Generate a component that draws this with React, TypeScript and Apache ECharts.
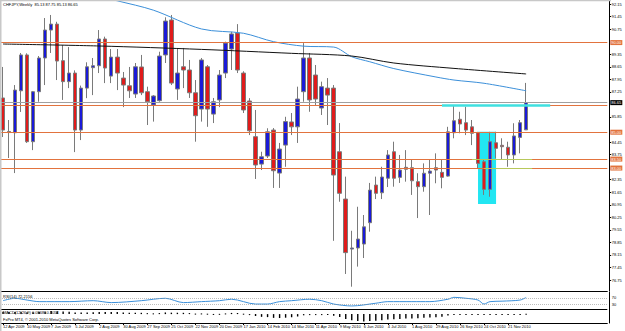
import { useEffect, useRef } from "react";
import * as echarts from "echarts";

const chartTitle = "CHFJPY,Weekly  85.13 87.75 85.13 86.65";
const rsiTitle = "RSI(14) 72.2156";
const macdTitle = "MACD(12,26,9) 0.0868 -0.3054";
const copyright = "FxPro MT4, © 2001-2010 MetaQuotes Software Corp.";

const totalSlots = 101;
const monthNames = ["Jan", "Feb", "Mar", "Apr", "May", "Jun", "Jul", "Aug", "Sep", "Oct", "Nov", "Dec"];

const opens = [86.91, 85.04, 84.97, 87.31, 89.31, 84.47, 87.26, 89.14, 90.70, 91.03,
  88.99, 87.82, 88.30, 85.12, 87.46, 88.60, 88.71, 90.20, 88.13, 89.19,
  88.02, 87.59, 87.13, 88.64, 87.26, 86.52, 86.76, 89.31, 91.26, 87.41,
  88.65, 88.47, 87.20, 86.29, 88.65, 86.01, 86.80, 88.30, 89.64, 90.53,
  88.30, 86.74, 84.75, 83.22, 83.67, 85.12, 82.72, 84.28, 85.57, 85.30,
  87.26, 89.14, 88.19, 86.35, 87.46, 87.46, 83.91, 81.27, 78.48, 78.54,
  78.76, 79.95, 82.05, 81.62, 82.43, 83.91, 82.48, 83.04, 83.02, 82.24,
  81.96, 82.71, 83.02, 82.76, 82.55, 84.97, 85.72, 85.53, 85.30, 84.97,
  83.35, 81.81, 84.41, 84.27, 84.16, 83.73, 84.71, 85.13];
const highs = [88.64, 85.68, 87.63, 89.42, 89.40, 87.30, 89.25, 91.37, 91.54, 91.16,
  89.86, 89.75, 88.45, 87.60, 88.90, 89.14, 90.70, 90.33, 89.64, 89.64,
  88.36, 88.64, 88.86, 89.31, 87.54, 87.07, 89.49, 91.41, 91.54, 89.70,
  89.70, 89.03, 87.91, 89.14, 88.75, 86.91, 88.47, 90.05, 90.60, 91.03,
  88.40, 86.90, 86.24, 83.91, 85.22, 85.23, 84.40, 85.86, 86.07, 87.54,
  89.97, 89.42, 88.75, 87.82, 88.02, 87.63, 85.51, 82.52, 79.50, 80.84,
  80.38, 82.17, 82.52, 83.07, 84.00, 84.47, 83.73, 84.00, 83.45, 82.71,
  83.26, 83.45, 83.82, 83.45, 85.30, 86.52, 86.14, 86.42, 85.68, 85.02,
  83.45, 85.02, 85.02, 84.66, 84.47, 85.50, 85.68, 87.75];
const lows = [84.73, 83.56, 82.72, 86.13, 84.40, 84.00, 86.70, 87.63, 89.42, 87.91,
  86.80, 87.46, 83.89, 84.56, 86.90, 87.07, 88.30, 87.74, 87.74, 87.35,
  86.40, 86.91, 86.91, 87.07, 85.40, 85.59, 86.70, 88.86, 87.63, 86.80,
  87.46, 86.91, 84.47, 85.59, 85.30, 85.51, 86.40, 88.02, 88.47, 88.30,
  86.07, 84.84, 82.39, 82.89, 83.56, 81.89, 81.89, 83.07, 84.84, 84.40,
  86.70, 86.14, 86.52, 85.96, 85.40, 78.94, 81.12, 77.09, 76.38, 77.50,
  77.98, 79.45, 81.27, 81.27, 81.94, 81.96, 82.17, 82.24, 81.50, 80.21,
  81.68, 80.38, 82.15, 81.87, 82.52, 84.66, 84.94, 84.84, 84.28, 82.99,
  81.50, 81.40, 83.54, 83.45, 83.07, 83.26, 83.82, 85.13];
const closes = [85.12, 84.98, 87.35, 89.31, 84.47, 87.26, 89.14, 90.70, 91.03, 88.97,
  87.82, 88.30, 85.12, 87.46, 88.65, 88.71, 90.20, 88.58, 89.19, 88.30,
  87.63, 87.31, 88.65, 87.20, 86.70, 87.02, 89.25, 91.20, 87.74, 88.30,
  88.47, 87.20, 85.92, 89.03, 86.29, 86.70, 88.19, 89.97, 90.48, 88.47,
  86.24, 85.08, 83.17, 83.63, 85.02, 82.85, 84.06, 85.59, 85.30, 86.85,
  89.14, 86.80, 86.85, 87.54, 87.07, 82.61, 81.59, 78.28, 78.54, 79.04,
  79.72, 81.77, 81.59, 82.50, 83.73, 82.43, 82.89, 82.93, 82.29, 81.96,
  82.71, 82.83, 82.89, 82.48, 85.02, 85.64, 85.46, 85.12, 84.94, 83.26,
  81.81, 84.47, 84.10, 84.19, 83.73, 84.79, 85.53, 86.65];

const blueMaIdx = [0, 10, 19, 25, 33, 40, 45, 50, 55, 58, 61, 65, 72, 75, 80, 87];
const blueMaVal = [93.80, 93.05, 92.33, 91.81, 90.76, 90.52, 90.05, 89.80, 89.75, 89.21, 88.93, 88.55, 88.08, 87.91, 87.73, 87.31];
const blackMaIdx = [0, 16, 33, 48, 58, 65, 75, 87];
const blackMaVal = [89.92, 89.81, 89.62, 89.40, 89.25, 88.86, 88.56, 88.25];

const rsiIdx = [0, 2, 4, 6, 11, 15, 18, 23, 27, 30, 33, 36, 38, 42, 44, 46, 48, 51, 53, 55, 58, 62, 64, 68, 71, 74, 75, 77, 79, 80, 81, 83, 86, 87];
const rsiVal = [52, 67, 56, 46, 46, 52, 40, 52, 67, 40, 46, 52, 61, 31, 31, 46, 52, 61, 52, 31, 19, 36, 46, 46, 46, 61, 73, 67, 56, 31, 46, 49, 56, 72];

const macdVals = [0.70, 0.62, 0.60, 0.68, 0.55, 0.52, 0.58, 0.75, 0.88, 0.85,
  0.75, 0.70, 0.50, 0.45, 0.50, 0.55, 0.65, 0.62, 0.62, 0.58,
  0.50, 0.42, 0.42, 0.38, 0.28, 0.22, 0.30, 0.48, 0.42, 0.40,
  0.38, 0.30, 0.15, 0.20, 0.12, 0.05, 0.08, 0.20, 0.35, 0.32,
  0.12, -0.20, -0.55, -0.80, -0.88, -1.10, -1.15, -1.05, -0.92, -0.70,
  -0.35, -0.25, -0.20, -0.10, -0.08, -0.45, -0.85, -1.40, -1.80, -2.05,
  -2.15, -2.05, -1.95, -1.80, -1.60, -1.50, -1.40, -1.30, -1.25, -1.22,
  -1.10, -1.00, -0.90, -0.80, -0.40, -0.25, -0.18, -0.12, -0.08, -0.15,
  -0.25, -0.20, -0.16, -0.14, -0.14, -0.08, 0.03, 0.09];

const priceTicks = [92.15, 91.45, 90.75, 89.35, 88.65, 87.95, 87.25, 85.85,
  84.45, 83.75, 82.35, 81.65, 80.95, 80.25, 79.55, 78.85,
  78.15, 77.45, 76.75];
const levelLines = [90.0, 85.0, 83.5, 83.0];
const hiddenLevel = 86.5;
const bidPrice = 86.65;
const cyanLevel = 86.48;
const greenLevels = [83.5, 83.0];
const zoneTop = 85.02;
const zoneBottom = 80.99;
const rsiLevels = [70, 30];
const panelSeparator = -3.1;

export default function App() {
  const ref = useRef<HTMLDivElement>(null);
  useEffect(() => {
    if (!ref.current) return;
    const chart = echarts.init(ref.current, null, { renderer: "svg" });
    const cats = Array.from({ length: totalSlots }, (_, i) => {
      const d = new Date(Date.UTC(2009, 3, 12) + i * 7 * 86400000);
      return `${d.getUTCDate()} ${monthNames[d.getUTCMonth()]} ${d.getUTCFullYear()}`;
    });
    const n = opens.length;
    const candles = opens.map((o, i) => [o, closes[i], lows[i], highs[i]]);
    const font = "Liberation Sans, Arial, sans-serif";
    const fs = 4;
    const gx = { left: -1.3, width: 608.6 };
    const orange = "#e2733e";
    const showDate = (i: number) => i % 4 === 0 && i < n;
    const option: any = {
      animation: false,
      backgroundColor: "#ffffff",
      textStyle: { fontFamily: font },
      grid: [
        { ...gx, top: 1, height: 290 },
        { ...gx, top: 292, height: 31 },
      ],
      xAxis: [0, 1].map((g) => ({
        type: "category",
        gridIndex: g,
        data: cats,
        boundaryGap: true,
        axisLine: { show: true, onZero: false, lineStyle: { color: "#000", width: 1 } },
        axisTick: g === 1 ? { show: true, length: 2, interval: showDate, alignWithLabel: true, lineStyle: { color: "#000" } } : { show: false },
        axisLabel: g === 1 ? {
          show: true,
          interval: showDate,
          align: "left",
          fontSize: fs,
          margin: 1.5,
          color: "#000",
          fontFamily: font,
        } : { show: false },
        splitLine: { show: false },
      })),
      yAxis: [
        {
          type: "value",
          gridIndex: 0,
          position: "right",
          offset: 2.4,
          min: 76.14,
          max: 92.32,
          axisLine: { show: true, lineStyle: { color: "#000" } },
          axisTick: { show: true, length: 1.5, customValues: priceTicks, lineStyle: { color: "#000" } },
          axisLabel: { show: true, customValues: priceTicks, fontSize: fs, margin: 2, color: "#000", fontFamily: font, formatter: (v: number) => v.toFixed(2) },
          splitLine: { show: false },
        },
        {
          type: "value",
          gridIndex: 1,
          position: "right",
          offset: 2.4,
          min: -87.5,
          max: 106.25,
          axisLine: { show: true, lineStyle: { color: "#000" } },
          axisTick: { show: false },
          axisLabel: { show: true, customValues: rsiLevels, fontSize: fs, margin: 2, color: "#000", fontFamily: font },
          splitLine: { show: false },
        },
        {
          type: "value",
          gridIndex: 1,
          position: "right",
          offset: 2.4,
          min: -2.6,
          max: 6.46,
          axisLine: { show: false },
          axisTick: { show: false },
          axisLabel: { show: false },
          splitLine: { show: false },
        },
      ],
      graphic: [
        { type: "rect", shape: { x: 0, y: 0, width: 1.5, height: 331 }, style: { fill: "#c8c8c8" }, z: 100 },
        { type: "rect", shape: { x: 0, y: 0, width: 611, height: 1.2 }, style: { fill: "#c8c8c8" }, z: 100 },
        { type: "text", x: 3, y: 2, style: { text: chartTitle, fontSize: fs, fill: "#000", fontFamily: font }, z: 100 },
        { type: "text", x: 3, y: 294.5, style: { text: rsiTitle, fontSize: fs, fill: "#000", fontFamily: font }, z: 100 },
        { type: "text", x: 3, y: 310.8, style: { text: macdTitle, fontSize: fs, fill: "#000", fontFamily: font }, z: 100 },
        { type: "text", x: 3, y: 317.6, style: { text: copyright, fontSize: fs, fill: "#000", fontFamily: font }, z: 100 },
      ],
      series: [
        {
          type: "candlestick",
          xAxisIndex: 0,
          yAxisIndex: 0,
          data: candles,
          barWidth: 4,
          itemStyle: {
            color: "#1a1ad8",
            color0: "#e01b1b",
            borderColor: "#7a7a7a",
            borderColor0: "#7a7a7a",
            borderWidth: 1,
          },
          markArea: {
            silent: true,
            itemStyle: { color: "#22e6f2" },
            data: [[{ xAxis: cats[79], yAxis: zoneTop }, { xAxis: cats[82], yAxis: zoneBottom }]],
            z: -1,
          },
          markLine: {
            silent: true,
            symbol: "none",
            animation: false,
            data: [
              ...levelLines.map((v) => ({
                yAxis: v,
                lineStyle: { color: orange, width: 1, type: "solid" },
                label: { show: true, position: "end", distance: 3, formatter: () => v.toFixed(2), backgroundColor: orange, color: "#fff", fontSize: fs, padding: [0.5, 1], fontFamily: font },
              })),
              {
                yAxis: hiddenLevel,
                lineStyle: { color: orange, width: 1, type: "solid" },
                label: { show: false },
              },
              {
                yAxis: bidPrice,
                lineStyle: { color: "#a0a0a0", width: 1, type: "solid" },
                label: { show: true, position: "end", distance: 3, formatter: () => bidPrice.toFixed(2), backgroundColor: "#000", color: "#fff", fontSize: fs, padding: [0.5, 1], fontFamily: font },
              },
              [
                { coord: [cats[73], cyanLevel], lineStyle: { color: "#3fe0e0", width: 2.5, type: "solid" }, label: { show: false } },
                { coord: [cats[91], cyanLevel] },
              ],
              ...greenLevels.map((v, k) => [
                { coord: [cats[k === 0 ? 78 : 80], v], lineStyle: { color: "#b8c85a", width: 1, type: "solid" }, label: { show: false } },
                { coord: [cats[88], v] },
              ]),
            ],
          },
        },
        {
          type: "line",
          xAxisIndex: 0,
          yAxisIndex: 0,
          data: blueMaIdx.map((x, i) => [x, blueMaVal[i]]),
          showSymbol: false,
          smooth: 0.3,
          lineStyle: { color: "#3b8fd9", width: 1 },
        },
        {
          type: "line",
          xAxisIndex: 0,
          yAxisIndex: 0,
          data: blackMaIdx.map((x, i) => [x, blackMaVal[i]]),
          showSymbol: false,
          smooth: 0.3,
          lineStyle: { color: "#111", width: 1 },
        },
        {
          type: "line",
          xAxisIndex: 1,
          yAxisIndex: 1,
          data: rsiIdx.map((x, i) => [x, rsiVal[i]]),
          showSymbol: false,
          smooth: 0.3,
          lineStyle: { color: "#3b8fd9", width: 1 },
          markLine: {
            silent: true,
            symbol: "none",
            label: { show: false },
            data: [
              ...rsiLevels.map((v) => ({ yAxis: v, lineStyle: { color: "#909090", width: 0.6, type: [1, 1] } })),
              { yAxis: panelSeparator, lineStyle: { color: "#000", width: 1, type: "solid" } },
            ],
          },
        },
        {
          type: "custom",
          name: "MACD",
          xAxisIndex: 1,
          yAxisIndex: 2,
          data: macdVals.map((v, i) => [i, v]),
          encode: { x: 0, y: 1 },
          clip: true,
          renderItem: (params: any, api: any) => {
            const idx = api.value(0);
            const base = api.coord([idx, 0]);
            const top = api.coord([idx, api.value(1)]);
            const h = Math.max(1, Math.abs(top[1] - base[1]));
            return {
              type: "rect",
              shape: { x: base[0] - 0.7, y: Math.min(top[1], base[1]), width: 1.4, height: h },
              style: { fill: "#000" },
            };
          },
        },
      ],
    };
    chart.setOption(option);
    return () => chart.dispose();
  }, []);
  return <div ref={ref} style={{ position: "fixed", left: 0, top: 0, width: 625, height: 331, background: "#fff" }} />;
}
